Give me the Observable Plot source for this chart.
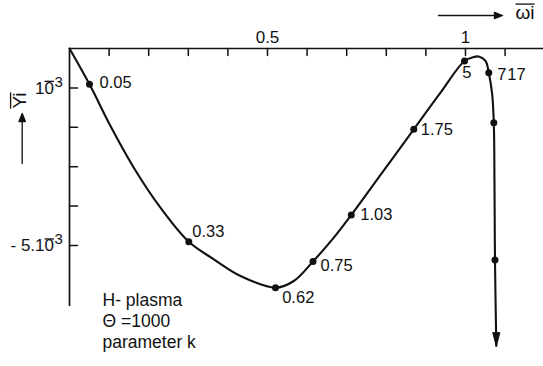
<!DOCTYPE html>
<html>
<head>
<meta charset="utf-8">
<script src="https://cdn.jsdelivr.net/npm/d3@7"></script>
<script src="https://cdn.jsdelivr.net/npm/@observablehq/plot@0.6"></script>
<style>
  html, body { margin: 0; padding: 0; background: #fff; }
  #chart svg { display: block; }
</style>
</head>
<body>
<div id="chart"></div>
<script>
// Dispersion curve of the H-plasma: normalized frequency ω̄i against Ȳi
const omega = [0, 0.0505, 0.1035, 0.1624, 0.2298, 0.3013, 0.3644, 0.4318, 0.5202, 0.5664,
               0.6149, 0.6674, 0.7116, 0.7896, 0.8694, 0.9369, 0.9975, 1.021, 1.033, 1.0505,
               1.0588, 1.0674, 1.0715, 1.0732, 1.0745, 1.0778];
const gamma = [0, -0.909e-3, -1.967e-3, -3.025e-3, -4.041e-3, -4.906e-3, -5.350e-3, -5.774e-3, -6.071e-3, -5.901e-3,
               -5.406e-3, -4.802e-3, -4.226e-3, -3.152e-3, -2.051e-3, -1.122e-3, -0.317e-3, -0.216e-3, -0.203e-3, -0.317e-3,
               -0.614e-3, -1.162e-3, -1.883e-3, -3.363e-3, -5.368e-3, -7.550e-3];

// Points marked along the curve with the parameter k
const markOmega = [0.0505, 0.3013, 0.5202, 0.6149, 0.7116, 0.8694, 0.9975, 1.0588, 1.0715, 1.0745];
const markGamma = [-0.909e-3, -4.906e-3, -6.071e-3, -5.406e-3, -4.226e-3, -2.051e-3, -0.317e-3, -0.614e-3, -1.883e-3, -5.368e-3];
const markK = ["0.05", "0.33", "0.62", "0.75", "1.03", "1.75", "5", "7", "17", ""];

// Axes
const xTicks = [0.1, 0.2, 0.3, 0.4, 0.5, 0.6, 0.7, 0.8, 0.9, 1.0, 1.1];
const xLabelValues = [0.5, 1];
const xLabelText = ["0.5", "1"];
const yTicks = [-1e-3, -2e-3, -3e-3, -4e-3, -5e-3];
const yLabelValues = [-1e-3, -5e-3];
const yLabelMantissa = ["10", "- 5.10"];   // the final 0 carries a bar (negative exponent)
const yLabelExponent = ["3", "3"];
const yAxisExtent = [0, -6.55e-3];

const notes = ["H- plasma", "\u0398 =1000", "parameter k"];
const xTitle = "\u03c9i";
const yTitle = "Yi";

// label placement next to each marked point (pixels)
const labelDx = [10, 3.5, 6.7, 7.5, 9, 7, -2.3, 8.4, 13.4, 0];
const labelDy = [-1.3, -10, 10, 4.5, 0, 0, 11.5, 1.6, -48.4, 0];

const curve = omega.map((w, i) => ({w, g: gamma[i]}));
const marks = markOmega.map((w, i) => ({w, g: markGamma[i], k: markK[i], dx: labelDx[i], dy: labelDy[i]}));
const endPoint = [curve[curve.length - 1]];

// vector shapes
const tickShape = {draw(ctx, l) { ctx.moveTo(0, 0); ctx.lineTo(0, -l); }};
const headShape = {draw(ctx, l, r) { ctx.moveTo(-r, 0); ctx.lineTo(0, -l); ctx.lineTo(r, 0); ctx.closePath(); }};
const arrowShape = {draw(ctx, l, r) {
  const h = 8;
  ctx.moveTo(0, 0); ctx.lineTo(0, -l + h);
  ctx.moveTo(-r, -l + h); ctx.lineTo(0, -l); ctx.lineTo(r, -l + h); ctx.closePath();
}};

const ink = "#111";

const chart = Plot.plot({
  width: 543,
  height: 366,
  marginTop: 48,
  marginLeft: 69,
  marginRight: 0,
  marginBottom: 0,
  style: {fontFamily: "'Liberation Sans', Arial, sans-serif", fontSize: "16.5px", color: ink, background: "#fff"},
  x: {domain: [0, 1.197], axis: null},
  y: {domain: [-0.008071, 0], axis: null},
  marks: [
    // top axis line and ticks
    Plot.ruleY([0], {stroke: ink, strokeWidth: 1.7}),
    Plot.vector(xTicks, {x: d => d, y: 0, length: 7, rotate: 180, anchor: "start", shape: tickShape, stroke: ink, strokeWidth: 1.5}),
    Plot.text(xLabelValues, {x: d => d, y: 0, text: (d, i) => xLabelText[i], dy: -10.5, lineAnchor: "middle", fontSize: 17, fill: ink}),
    // left axis line and ticks
    Plot.ruleX([0], {y1: yAxisExtent[0], y2: yAxisExtent[1], stroke: ink, strokeWidth: 1.7}),
    Plot.vector(yTicks, {x: 0, y: d => d, length: 8, rotate: 90, anchor: "start", shape: tickShape, stroke: ink, strokeWidth: 1.5}),
    Plot.text(yLabelValues, {x: 0, y: d => d, text: (d, i) => yLabelMantissa[i], textAnchor: "end", dx: -15.5, dy: 0.5, lineAnchor: "middle", fontSize: 17, fill: ink}),
    Plot.text(yLabelValues, {x: 0, y: d => d, text: (d, i) => yLabelExponent[i], textAnchor: "start", dx: -15, dy: -6, fontSize: 15, lineAnchor: "middle", fill: ink}),
    // axis titles with direction arrows
    Plot.vector([0], {frameAnchor: "top-right", dx: -41, dy: -33, length: 64, r: 3.2, rotate: 90, anchor: "end", shape: arrowShape, stroke: ink, fill: ink, strokeWidth: 1.3}),
    Plot.text([xTitle], {frameAnchor: "top-right", text: d => d, dx: -28, dy: -35.5, textAnchor: "start", lineAnchor: "middle", fontSize: 19, fill: ink}),
    Plot.vector([0], {frameAnchor: "top-left", dx: -47.3, dy: 65, length: 50, r: 3.2, rotate: 0, anchor: "end", shape: arrowShape, stroke: ink, fill: ink, strokeWidth: 1.3}),
    Plot.text([yTitle], {frameAnchor: "top-left", text: d => d, dx: -50, dy: 52, rotate: -90, textAnchor: "middle", lineAnchor: "middle", fontSize: 19, fill: ink}),
    // dispersion curve
    Plot.line(curve, {x: "w", y: "g", curve: "catmull-rom", stroke: ink, strokeWidth: 2.1}),
    Plot.vector(endPoint, {x: "w", y: "g", length: 13, r: 3.5, rotate: 180, anchor: "end", shape: headShape, stroke: ink, fill: ink, strokeWidth: 1}),
    Plot.dot(marks, {x: "w", y: "g", r: 3.5, fill: ink}),
    ...marks.filter(m => m.k).map(m =>
      Plot.text([m], {x: "w", y: "g", text: "k", dx: m.dx, dy: m.dy, textAnchor: "start", lineAnchor: "middle", fill: ink})),
    // plasma description
    Plot.text([notes.join("\n")], {frameAnchor: "bottom-left", text: d => d, dx: 33, dy: -19, textAnchor: "start", lineAnchor: "bottom", lineHeight: 1.2, fontSize: 17.5, fill: ink})
  ]
});

document.getElementById("chart").append(chart);

// bars over the axis titles and over the 0 of each power of ten
function overline(text, box, drop) {
  const line = document.createElementNS("http://www.w3.org/2000/svg", "line");
  const y = box.y + drop;
  line.setAttribute("x1", box.x);
  line.setAttribute("x2", box.x + box.width);
  line.setAttribute("y1", y);
  line.setAttribute("y2", y);
  line.setAttribute("stroke", ink);
  line.setAttribute("stroke-width", 1.3);
  const t = text.getAttribute("transform");
  if (t) line.setAttribute("transform", t);
  text.parentNode.appendChild(line);
}
const texts = Array.from(chart.querySelectorAll("text"));
for (const el of texts) {
  const s = el.textContent;
  if (s === xTitle || s === yTitle) {
    overline(el, el.getBBox(), 2);
  } else if (yLabelMantissa.includes(s)) {
    overline(el, el.getExtentOfChar(s.length - 1), 2.5);
  }
}
</script>
</body>
</html>
